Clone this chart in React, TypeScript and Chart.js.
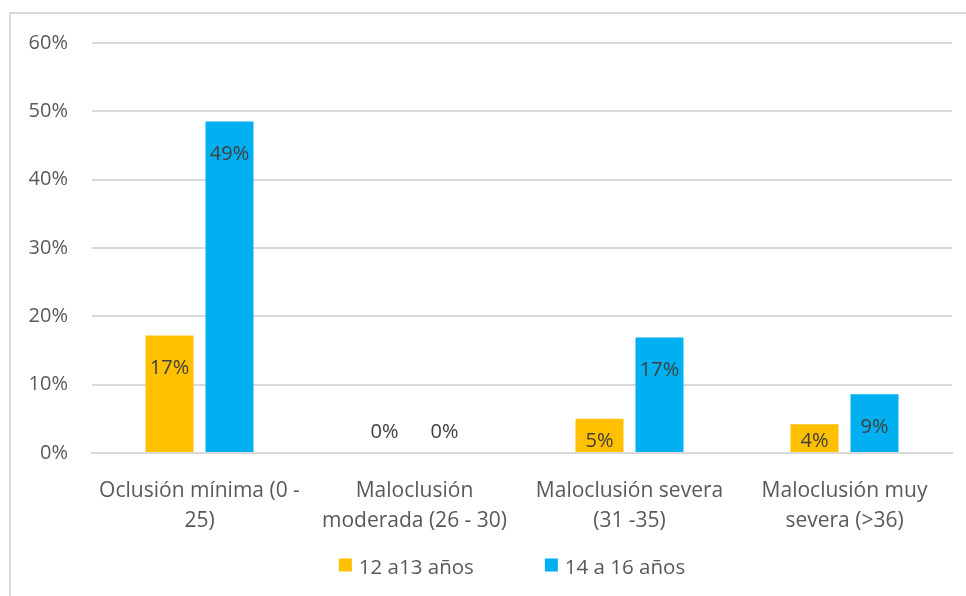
import React, { useEffect, useRef } from "react";
import { Chart, registerables } from "chart.js";

Chart.register(...registerables);

const categories: string[][] = [
  ["Oclusión mínima (0 -", "25)"],
  ["Maloclusión", "moderada (26 - 30)"],
  ["Maloclusión severa", "(31 -35)"],
  ["Maloclusión muy", "severa (>36)"],
];
const seriesNames = ["12 a13 años", "14 a 16 años"];
const values12a13 = [17.2, 0, 5.0, 4.2];
const values14a16 = [48.5, 0, 16.9, 8.6];
const labels12a13 = ["17%", "0%", "5%", "4%"];
const labels14a16 = ["49%", "0%", "17%", "9%"];
const yTicks = [0, 10, 20, 30, 40, 50, 60];
const colors = ["#FFC000", "#00B0F0"];

const FONT = "'Open Sans', sans-serif";
const TEXT = "#595959";

const valueLabelPlugin = {
  id: "valueLabels",
  afterDatasetsDraw(chart: any) {
    const ctx = chart.ctx;
    const all = [labels12a13, labels14a16];
    ctx.save();
    ctx.font = `20px ${FONT}`;
    ctx.fillStyle = "#404040";
    ctx.textAlign = "center";
    ctx.textBaseline = "middle";
    chart.data.datasets.forEach((ds: any, di: number) => {
      const meta = chart.getDatasetMeta(di);
      meta.data.forEach((bar: any, i: number) => {
        const base = bar.base;
        let y: number;
        if (ds.data[i] === 0) y = base - 21;
        else y = Math.min(bar.y + 33, base - 11);
        ctx.fillText(all[di][i], bar.x, y);
      });
    });
    ctx.restore();
  },
};

const legendPlugin = {
  id: "customLegend",
  afterDraw(chart: any) {
    const ctx = chart.ctx;
    ctx.save();
    ctx.font = `20.5px ${FONT}`;
    ctx.textBaseline = "middle";
    ctx.textAlign = "left";
    const box = 13;
    const gapText = 7;
    const itemGap = 71;
    const widths = seriesNames.map((n) => box + gapText + ctx.measureText(n).width);
    const total = widths.reduce((a, b) => a + b, 0) + itemGap * (widths.length - 1);
    const area = chart.chartArea;
    let x = (area.left + area.right) / 2 - total / 2 - 10;
    const y = 568;
    seriesNames.forEach((n, i) => {
      ctx.fillStyle = colors[i];
      ctx.fillRect(x, y - box / 2 - 3, box, box);
      ctx.fillStyle = TEXT;
      ctx.fillText(n, x + box + gapText, y);
      x += widths[i] + itemGap;
    });
    ctx.restore();
  },
};

export default function App() {
  const ref = useRef<HTMLCanvasElement | null>(null);
  useEffect(() => {
    if (!ref.current) return;
    const chart = new Chart(ref.current, {
      type: "bar",
      data: {
        labels: categories,
        datasets: [
          {
            label: seriesNames[0],
            data: values12a13,
            backgroundColor: colors[0],
            barPercentage: 0.8,
            categoryPercentage: 0.558,
          },
          {
            label: seriesNames[1],
            data: values14a16,
            backgroundColor: colors[1],
            barPercentage: 0.8,
            categoryPercentage: 0.558,
          },
        ],
      },
      options: {
        responsive: false,
        animation: false,
        layout: { padding: { left: 10, right: 14, top: 43, bottom: 37 } },
        plugins: {
          legend: { display: false },
          tooltip: { enabled: false },
        },
        scales: {
          x: {
            grid: { display: false, drawTicks: false },
            border: { display: true, color: "#d9d9d9", width: 2 },
            ticks: {
              color: TEXT,
              font: { family: FONT, size: 21, lineHeight: 1.43 },
              padding: 23,
              maxRotation: 0,
              autoSkip: false,
            },
          },
          y: {
            min: 0,
            max: 60,
            afterFit: (s: any) => {
              s.width = 82;
            },
            afterBuildTicks: (s: any) => {
              s.ticks = yTicks.map((v) => ({ value: v }));
            },
            grid: { color: "#d9d9d9", lineWidth: 2, drawTicks: false },
            border: { display: false },
            ticks: {
              color: TEXT,
              font: { family: FONT, size: 20 },
              padding: 24,
              callback: (v: any) => `${v}%`,
            },
          },
        },
      },
      plugins: [valueLabelPlugin, legendPlugin],
    });
    return () => chart.destroy();
  }, []);
  return (
    <div
      style={{
        position: "fixed",
        left: 0,
        top: 0,
        width: 966,
        height: 596,
        overflow: "hidden",
        background: "#fff",
      }}
    >
      <div
        style={{
          position: "absolute",
          left: 9,
          top: 12,
          width: 1000,
          height: 700,
          border: "2px solid #d9d9d9",
        }}
      />
      <canvas
        ref={ref}
        width={966}
        height={596}
        style={{ position: "absolute", left: 0, top: 0 }}
      />
    </div>
  );
}
